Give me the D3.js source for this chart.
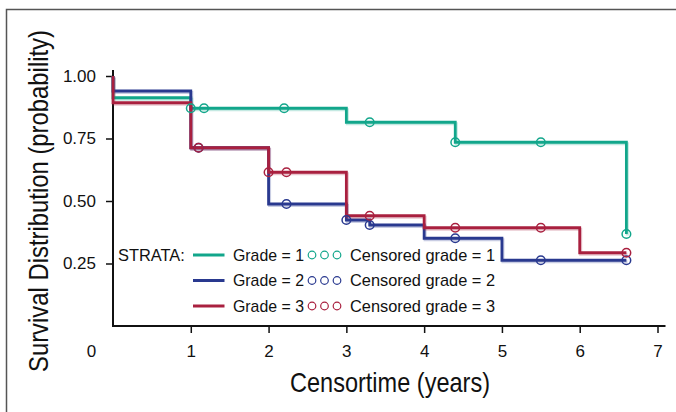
<!DOCTYPE html>
<html>
<head>
  <meta charset="utf-8">
  <title>Survival Distribution by Grade</title>
  <script src="https://d3js.org/d3.v7.min.js"></script>
  <style>
    body { margin: 0; background: #fff; }
    svg { display: block; }
    .tick text { font-family: "Liberation Sans", Arial, sans-serif; font-size: 17px; fill: #111; }
    .title { font-family: "Liberation Sans Narrow", "Liberation Sans", sans-serif; font-size: 28px; fill: #111; }
    .legend text { font-family: "Liberation Sans", Arial, sans-serif; font-size: 16.4px; fill: #111; }
  </style>
</head>
<body>
  <div id="chart"></div>
  <script>
    // Kaplan-Meier steps: [time, survival]
    const grade1Steps = [[0, 1], [0, 0.913], [1, 0.871], [3, 0.815], [4.4, 0.735], [6.6, 0.368]];
    const grade2Steps = [[0, 1], [0, 0.94], [1, 0.713], [2, 0.488], [3, 0.424], [3.3, 0.404], [4, 0.351], [5, 0.263], [6.6, 0.263]];
    const grade3Steps = [[0, 1], [0, 0.893], [1, 0.713], [2, 0.615], [3, 0.441], [4, 0.393], [6, 0.293], [6.6, 0.293]];

    // censored observations
    const grade1Censored = [[1.0, 0.871], [1.17, 0.871], [2.2, 0.871], [3.3, 0.815], [4.4, 0.735], [5.5, 0.735], [6.6, 0.368]];
    const grade2Censored = [[1.1, 0.713], [2.23, 0.488], [3.0, 0.424], [3.3, 0.404], [4.4, 0.351], [5.5, 0.263], [6.6, 0.263]];
    const grade3Censored = [[1.1, 0.713], [2.0, 0.615], [2.23, 0.615], [3.3, 0.441], [4.4, 0.393], [5.5, 0.393], [6.6, 0.293]];

    const strataLabels = ["Grade = 1", "Grade = 2", "Grade = 3"];
    const censoredLabels = ["Censored grade = 1", "Censored grade = 2", "Censored grade = 3"];
    const strataColors = ["#12a68b", "#29398f", "#a9203f"];

    const xTicks = [1, 2, 3, 4, 5, 6, 7];
    const yTicks = [0.25, 0.5, 0.75, 1.0];

    const width = 676, height = 412;

    const svg = d3.select("#chart").append("svg")
      .attr("width", width)
      .attr("height", height);

    // outer frame
    svg.append("rect")
      .attr("x", 6.5).attr("y", 9.5)
      .attr("width", 720).attr("height", 440)
      .attr("fill", "none")
      .attr("stroke", "#555")
      .attr("stroke-width", 1.5);

    const x = d3.scaleLinear().domain([0, 7]).range([113, 657.5]);
    const y = d3.scaleLinear().domain([0, 1]).range([326, 76]);

    // axes
    const xAxis = svg.append("g")
      .attr("transform", `translate(0,${y(0)})`)
      .call(d3.axisBottom(x).tickValues(xTicks).tickFormat(d3.format("d")).tickSize(7).tickPadding(12));
    xAxis.select(".domain").remove();
    xAxis.selectAll(".tick line").attr("stroke", "#111").attr("stroke-width", 1.5);

    const yAxis = svg.append("g")
      .attr("transform", `translate(${x(0)},0)`)
      .call(d3.axisLeft(y).tickValues(yTicks).tickFormat(d3.format(".2f")).tickSize(7).tickPadding(10));
    yAxis.select(".domain").remove();
    yAxis.selectAll(".tick line").attr("stroke", "#111").attr("stroke-width", 1.5);

    svg.append("line")
      .attr("x1", x(0)).attr("x2", x(0))
      .attr("y1", y(1) - 6).attr("y2", y(0) + 1)
      .attr("stroke", "#111").attr("stroke-width", 2);
    svg.append("line")
      .attr("x1", x(0) - 1).attr("x2", x(7) + 8)
      .attr("y1", y(0)).attr("y2", y(0))
      .attr("stroke", "#111").attr("stroke-width", 2);

    // lone "0" at the origin corner
    svg.append("text")
      .attr("x", 91.5).attr("y", y(0) + 19).attr("dy", "0.71em")
      .attr("text-anchor", "middle")
      .style("font-family", "'Liberation Sans', Arial, sans-serif")
      .style("font-size", "17px").style("fill", "#111")
      .text("0");

    // titles (condensed face squeezed to the printed width)
    svg.append("text")
      .attr("class", "title")
      .attr("x", 290).attr("y", 392)
      .attr("textLength", 200)
      .attr("lengthAdjust", "spacingAndGlyphs")
      .text("Censortime (years)");

    svg.append("text")
      .attr("class", "title")
      .attr("transform", "translate(48,372) rotate(-90)")
      .attr("textLength", 342)
      .attr("lengthAdjust", "spacingAndGlyphs")
      .text("Survival Distribution (probability)");

    // survival curves
    const line = d3.line()
      .x(d => x(d[0]))
      .y(d => y(d[1]))
      .curve(d3.curveStepAfter);

    const steps = [grade1Steps, grade2Steps, grade3Steps];
    const censored = [grade1Censored, grade2Censored, grade3Censored];

    steps.forEach((s, i) => {
      // faint print halo
      svg.append("path")
        .datum(s)
        .attr("d", line)
        .attr("transform", "translate(1,1.5)")
        .attr("fill", "none")
        .attr("stroke", strataColors[i])
        .attr("stroke-opacity", 0.25)
        .attr("stroke-width", 3);
      svg.append("path")
        .datum(s)
        .attr("d", line)
        .attr("fill", "none")
        .attr("stroke", strataColors[i])
        .attr("stroke-width", 2.8);
    });

    censored.forEach((c, i) => {
      svg.append("g")
        .selectAll("circle")
        .data(c)
        .enter().append("circle")
        .attr("cx", d => x(d[0]))
        .attr("cy", d => y(d[1]))
        .attr("r", 4.3)
        .attr("fill", "none")
        .attr("stroke", strataColors[i])
        .attr("stroke-width", 1.5);
    });

    // legend
    const legend = svg.append("g").attr("class", "legend");
    const rowY = [255, 280.5, 306];

    legend.append("text")
      .attr("x", 118).attr("y", rowY[0]).attr("dy", "0.36em")
      .text("STRATA:");

    strataLabels.forEach((label, i) => {
      legend.append("line")
        .attr("x1", 193).attr("x2", 224.5)
        .attr("y1", rowY[i]).attr("y2", rowY[i])
        .attr("stroke", strataColors[i])
        .attr("stroke-width", 3);
      legend.append("text")
        .attr("x", 233).attr("y", rowY[i]).attr("dy", "0.36em")
        .attr("textLength", 71)
        .attr("lengthAdjust", "spacingAndGlyphs")
        .text(label);
      [312, 324.5, 337].forEach(cx => {
        legend.append("circle")
          .attr("cx", cx).attr("cy", rowY[i])
          .attr("r", 3.8)
          .attr("fill", "none")
          .attr("stroke", strataColors[i])
          .attr("stroke-width", 1.2);
      });
      legend.append("text")
        .attr("x", 350).attr("y", rowY[i]).attr("dy", "0.36em")
        .attr("textLength", 145)
        .attr("lengthAdjust", "spacingAndGlyphs")
        .text(censoredLabels[i]);
    });
  </script>
</body>
</html>
